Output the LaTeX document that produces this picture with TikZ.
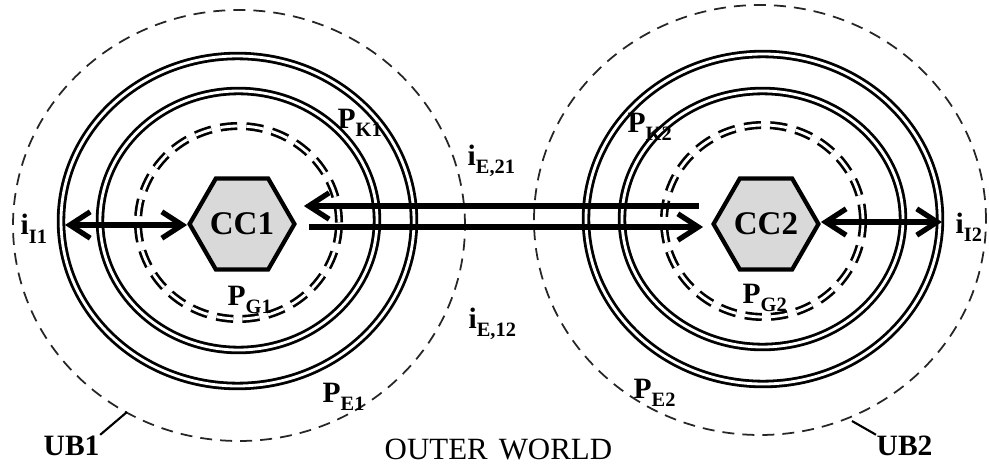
\documentclass[tikz,border=0pt]{standalone}
\usepackage{fontspec}
\setmainfont{Liberation Serif}
\usepackage{tikz}
\usetikzlibrary{arrows.meta,shapes.geometric}
\newcommand{\withsub}[2]{#1\raisebox{-0.8mm}{\fontsize{5.8}{6}\selectfont #2}}
\tikzset{
  world line/.style={draw=black!85, line width=0.5pt,
    dash pattern=on 3.4pt off 2.3pt},
  shell line/.style={draw=black, double=white, line width=0.8pt,
    double distance=0.8pt},
  core line/.style={shell line, line width=0.75pt,
    dash pattern=on 4.8pt off 2.6pt},
  core hex/.style={regular polygon, regular polygon sides=6, draw=black,
    line width=1.2pt, fill=black!15, minimum size=9.8mm, inner sep=0pt,
    font=\fontsize{9.4}{10}\selectfont\bfseries},
  flow/.style={line width=1.5pt, draw=black},
  leader/.style={line width=0.6pt, draw=black},
  ring label/.style={anchor=base west, inner sep=0pt,
    font=\fontsize{8.4}{9}\selectfont\bfseries}
}

\begin{document}
\begin{tikzpicture}[>={Straight Barb[length=5.8pt,width=7.5pt]}]
  \useasboundingbox (0,0) rectangle (9.89,4.67);
  % left unit
  \draw[world line] (2.39,2.415) ellipse [x radius=2.26, y radius=2.155];
  \draw[shell line] (2.375,2.46) ellipse [x radius=1.765, y radius=1.65];
  \draw[shell line] (2.385,2.465) ellipse [x radius=1.385, y radius=1.295];
  \draw[core line] (2.385,2.445) ellipse [x radius=1.005, y radius=0.965];
  % right unit
  \draw[world line] (7.60,2.47) ellipse [x radius=2.26, y radius=2.15];
  \draw[shell line] (7.63,2.48) ellipse [x radius=1.77, y radius=1.65];
  \draw[shell line] (7.625,2.48) ellipse [x radius=1.405, y radius=1.28];
  \draw[core line] (7.635,2.46) ellipse [x radius=0.995, y radius=0.96];

  \node[core hex] (cc1) at (2.42,2.43) {CC1};
  \node[core hex] (cc2) at (7.66,2.43) {CC2};
  \coordinate (ii1) at (0.65,2.42);
  \coordinate (ii2) at (9.42,2.45);
  \draw[flow, <->] (ii1) -- (ii1 -| cc1.west);
  \draw[flow, <->] (ii2 -| cc2.east) -- (ii2);
  \draw[flow, <-] ([shift={(0.07,0.18)}]cc1.east)
    -- ([shift={(-0.12,0.18)}]cc2.west);
  \draw[flow, ->] ([shift={(0.12,-0.03)}]cc1.east)
    -- ([shift={(-0.08,-0.03)}]cc2.west);

  \node[ring label] (li1) at (0.20,2.32) {\withsub{i}{I1}};
  \node[ring label] (li2) at (9.55,2.34) {\withsub{i}{I2}};
  \node[ring label] (le21) at (4.67,3.02) {\withsub{i}{E,21}};
  \node[ring label] (le12) at (4.68,1.39) {\withsub{i}{E,12}};
  \node[ring label] (pk1) at (3.37,3.39) {\withsub{P}{K1}};
  \node[ring label] (pg1) at (2.27,1.62) {\withsub{P}{G1}};
  \node[ring label] (pe1) at (3.22,0.65) {\withsub{P}{E1}};
  \node[ring label] (pk2) at (6.27,3.35) {\withsub{P}{K2}};
  \node[ring label] (pg2) at (7.42,1.64) {\withsub{P}{G2}};
  \node[ring label] (pe2) at (6.33,0.69) {\withsub{P}{E2}};

  \node[ring label] (ub1) at (0.43,0.12) {UB1};
  \node[ring label] (ub2) at (8.76,0.12) {UB2};
  \coordinate (ub1c) at (1.27,0.55);
  \coordinate (ub2c) at (8.52,0.46);
  \draw[leader] (ub1.north east) -- (ub1c);
  \draw[leader] (ub2c) -- (ub2.north west);
  \node[anchor=base west, inner sep=0pt, font=\fontsize{8.8}{10}\selectfont]
    (world) at (3.84,0.08) {OUTER\hspace{1.1mm}WORLD};
\end{tikzpicture}
\end{document}
